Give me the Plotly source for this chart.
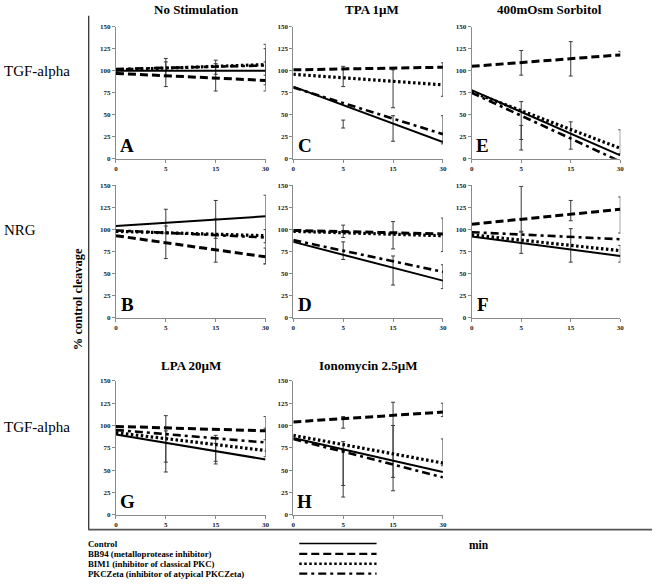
import plotly.graph_objects as go

W, H = 656, 586

# ---------------- data ----------------
time_labels = ["0", "5", "15", "30"]
panels = ["A", "B", "C", "D", "E", "F", "G", "H"]

# trend line values at t=0 and t=30 (% control cleavage)
control_start = [100, 104, 82, 86, 78, 92, 90, 86]
control_end = [100, 115, 19, 42, 4, 70, 62, 48]
bb94_start = [97, 93, 101, 99, 105, 106, 99, 104]
bb94_end = [89, 69, 104, 95, 118, 123, 94, 115]
bim1_start = [101, 98, 96, 98, 76, 94, 92, 89]
bim1_end = [107, 93, 84, 93, 12, 76, 72, 58]
pkcz_start = [102, 99, 81, 88, 75, 97, 95, 85]
pkcz_end = [106, 91, 28, 52, -3, 89, 81, 42]

# error bars: (time, low, high)
err_A = [("5", 82, 114), ("5", 94, 110), ("15", 77, 112), ("15", 96, 108),
         ("30", 77, 130), ("30", 84, 125), ("30", 95, 110)]
err_B = [("5", 67, 123), ("5", 96, 104), ("15", 63, 133), ("15", 90, 112),
         ("30", 61, 139), ("30", 61, 79), ("30", 85, 100)]
err_C = [("5", 82, 105), ("5", 35, 44), ("15", 58, 101), ("15", 20, 49),
         ("30", 71, 109), ("30", 17, 49)]
err_D = [("5", 91, 105), ("5", 66, 86), ("15", 78, 109), ("15", 37, 70),
         ("30", 75, 113), ("30", 33, 60)]
err_E = [("5", 95, 123), ("5", 10, 65), ("5", 22, 38), ("15", 94, 133),
         ("15", 11, 42), ("30", 117, 122), ("30", 6, 33)]
err_F = [("5", 98, 149), ("5", 73, 97), ("15", 110, 133), ("15", 63, 101),
         ("30", 96, 137), ("30", 63, 82)]
err_G = [("5", 48, 111), ("5", 59, 94), ("15", 57, 89), ("15", 60, 80),
         ("30", 65, 110), ("30", 84, 97)]
err_H = [("5", 97, 110), ("5", 20, 82), ("5", 33, 72), ("15", 27, 126),
         ("15", 42, 100), ("30", 110, 125), ("30", 55, 85)]
errors = [err_A, err_B, err_C, err_D, err_E, err_F, err_G, err_H]

col_titles = ["No Stimulation", "TPA 1\u00b5M", "400mOsm Sorbitol"]
row3_titles = ["LPA 20\u00b5M", "Ionomycin 2.5\u00b5M"]
row_labels = ["TGF-alpha", "NRG", "TGF-alpha"]
series_names = ["Control", "BB94 (metalloprotease inhibitor)",
                "BIM1 (inhibitor of classical PKC)",
                "PKCZeta (inhibitor of atypical PKCZeta)"]
y_ticks = [0, 25, 50, 75, 100, 125, 150]

# ---------------- layout helpers ----------------
SERIF = "Liberation Serif"


def px(x):
    return x / W


def py(y):
    return 1 - y / H


col_dom = [(115, 266), (294, 445), (474, 624)]
row_dom = [(23, 157), (184, 318), (382, 518)]
panel_pos = {"A": (0, 0), "C": (0, 1), "E": (0, 2),
             "B": (1, 0), "D": (1, 1), "F": (1, 2),
             "G": (2, 0), "H": (2, 1)}

styles = [
    dict(color="black", width=2, dash="solid"),
    dict(color="black", width=3, dash="8px,4px"),
    dict(color="black", width=3.2, dash="2.5px,2.5px"),
    dict(color="black", width=2.6, dash="8px,4px,3px,4px"),
]

fig = go.Figure()
layout = dict(width=W, height=H, margin=dict(l=0, r=0, t=0, b=0),
              paper_bgcolor="white", plot_bgcolor="white", showlegend=False)
annotations = []
shapes = []

for i, p in enumerate(panels):
    r, c = panel_pos[p]
    k = i + 1
    xa = "x" if k == 1 else f"x{k}"
    ya = "y" if k == 1 else f"y{k}"
    starts = [control_start[i], bb94_start[i], bim1_start[i], pkcz_start[i]]
    ends = [control_end[i], bb94_end[i], bim1_end[i], pkcz_end[i]]
    # error bars
    ex = [e[0] for e in errors[i]]
    ey = [(e[1] + e[2]) / 2 for e in errors[i]]
    eplus = [e[2] - (e[1] + e[2]) / 2 for e in errors[i]]
    fig.add_trace(go.Scatter(
        x=ex, y=ey, mode="markers", xaxis=xa, yaxis=ya,
        marker=dict(size=1, color="rgba(0,0,0,0)"),
        error_y=dict(type="data", symmetric=True, array=eplus,
                     color="#3a3a3a", thickness=1, width=2),
        cliponaxis=False, hoverinfo="skip"))
    for s in range(4):
        fig.add_trace(go.Scatter(
            x=[time_labels[0], time_labels[-1]], y=[starts[s], ends[s]],
            mode="lines", xaxis=xa, yaxis=ya, line=styles[s],
            name=series_names[s], hoverinfo="skip"))
    axis_common = dict(showline=True, linecolor="#8a8a8a", linewidth=1,
                       ticks="outside", ticklen=3, tickcolor="#8a8a8a",
                       showgrid=False, zeroline=False,
                       tickfont=dict(family=SERIF, size=7, color="#222",
                                     weight="bold"))
    layout["xaxis" if k == 1 else f"xaxis{k}"] = dict(
        axis_common, type="category", categoryorder="array",
        categoryarray=time_labels, range=[0, 3],
        domain=[px(col_dom[c][0]), px(col_dom[c][1])],
        anchor=ya)
    layout["yaxis" if k == 1 else f"yaxis{k}"] = dict(
        axis_common, range=[0, 150], tickvals=y_ticks,
        domain=[py(row_dom[r][1]), py(row_dom[r][0])],
        anchor=xa)
    annotations.append(dict(
        text=f"<b>{p}</b>", xref=f"{xa} domain", yref=f"{ya} domain",
        x=0.075, y=0.1, xanchor="center", yanchor="middle", showarrow=False,
        font=dict(family=SERIF, size=19, color="black")))

# column / panel titles
for t, xc in zip(col_titles, [196, 373, 553]):
    annotations.append(dict(text=f"<b>{t}</b>", xref="paper", yref="paper",
                            x=px(xc), y=py(6), xanchor="center", yanchor="middle",
                            showarrow=False,
                            font=dict(family=SERIF, size=13, color="black")))
for t, xc in zip(row3_titles, [191, 370]):
    annotations.append(dict(text=f"<b>{t}</b>", xref="paper", yref="paper",
                            x=px(xc), y=py(367), xanchor="center", yanchor="middle",
                            showarrow=False,
                            font=dict(family=SERIF, size=13, color="black")))
# row labels
for t, yc in zip(row_labels, [68, 229, 429]):
    annotations.append(dict(text=t, xref="paper", yref="paper",
                            x=px(0), y=py(yc), xanchor="left", yanchor="middle",
                            showarrow=False,
                            font=dict(family=SERIF, size=15, color="black")))
# y axis title
annotations.append(dict(text="<b>% control cleavage</b>", xref="paper", yref="paper",
                        x=px(77), y=py(299), xanchor="center", yanchor="middle",
                        textangle=-90, showarrow=False,
                        font=dict(family=SERIF, size=12.5, color="black")))
# "min"
annotations.append(dict(text="<b>min</b>", xref="paper", yref="paper",
                        x=px(481), y=py(548), xanchor="center", yanchor="middle",
                        showarrow=False,
                        font=dict(family=SERIF, size=11.5, color="black")))
# legend text and samples
leg_y = [547.5, 558, 568, 578]
for s in range(4):
    annotations.append(dict(text=f"<b>{series_names[s]}</b>", xref="paper", yref="paper",
                            x=px(86), y=py(leg_y[s]), xanchor="left", yanchor="middle",
                            showarrow=False, borderpad=0,
                            font=dict(family=SERIF, size=8.8, color="black")))
    shapes.append(dict(type="line", xref="paper", yref="paper",
                       x0=px(300), x1=px(378), y0=py(leg_y[s] - 0.5), y1=py(leg_y[s] - 0.5),
                       line=dict(color="black", width=styles[s]["width"] * 0.8,
                                 dash=styles[s]["dash"])))

# frame lines
shapes.append(dict(type="line", xref="paper", yref="paper",
                   x0=px(87.5), x1=px(87.5), y0=py(12), y1=py(533),
                   line=dict(color="#333", width=1.3)))
shapes.append(dict(type="line", xref="paper", yref="paper",
                   x0=px(87), x1=px(656), y0=py(533), y1=py(533),
                   line=dict(color="#555", width=1.8)))

layout["annotations"] = annotations
layout["shapes"] = shapes
fig.update_layout(**layout)
fig.write_html(
    "out.html",
    config={"displayModeBar": False},
    post_script="document.body.style.margin='0';document.body.style.overflow='hidden';",
)
